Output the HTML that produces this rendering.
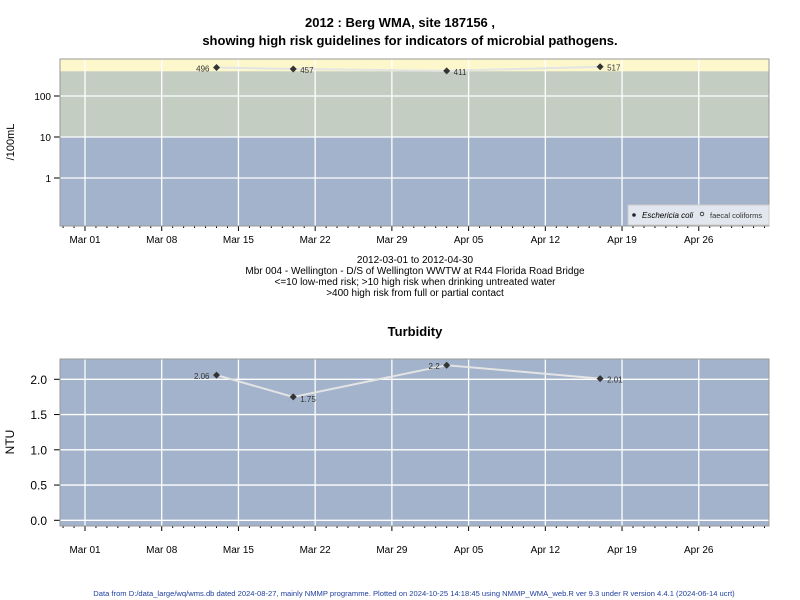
<!DOCTYPE html>
<html><head><meta charset="utf-8"><style>
body{margin:0;background:#fff;}
svg{display:block;font-family:"Liberation Sans",Arial,sans-serif;}
</style></head><body>
<svg id="c" width="800" height="600" viewBox="0 0 800 600">
<text x="400" y="27" text-anchor="middle" font-size="13" font-weight="bold">2012 : Berg WMA, site 187156 ,</text>
<text x="410" y="45" text-anchor="middle" font-size="13" font-weight="bold">showing high risk guidelines for indicators of microbial pathogens.</text>
<g id="topPanel"></g>
<g font-size="10" text-anchor="middle">
<text x="415" y="263">2012-03-01 to 2012-04-30</text>
<text x="415" y="274">Mbr 004 - Wellington - D/S of Wellington WWTW at R44 Florida Road Bridge</text>
<text x="415" y="285">&lt;=10 low-med risk; &gt;10 high risk when drinking untreated water</text>
<text x="415" y="296">&gt;400 high risk from full or partial contact</text>
</g>
<text x="415" y="336" text-anchor="middle" font-size="13" font-weight="bold">Turbidity</text>
<g id="botPanel"></g>
<text x="414" y="596" text-anchor="middle" font-size="7.6" fill="#1f3f9f">Data from D:/data_large/wq/wms.db dated 2024-08-27, mainly NMMP programme. Plotted on 2024-10-25 14:18:45 using NMMP_WMA_web.R ver 9.3 under R version 4.4.1 (2024-06-14 ucrt)</text>
</svg>
<script>
const ecoliDays=[12,19,33,47];
const ecoliValues=[496,457,411,517];
const ecoliLabels=["496","457","411","517"];
const turbDays=[12,19,33,47];
const turbValues=[2.06,1.75,2.2,2.01];
const turbLabels=["2.06","1.75","2.2","2.01"];
const dateTickDays=[0,7,14,21,28,35,42,49,56];
const dateTickLabels=["Mar 01","Mar 08","Mar 15","Mar 22","Mar 29","Apr 05","Apr 12","Apr 19","Apr 26"];
const logTicks=[1,10,100];
const turbTicks=[0,0.5,1,1.5,2];
const turbTickLabels=["0.0","0.5","1.0","1.5","2.0"];

const NS="http://www.w3.org/2000/svg";
function mk(p,t,a,txt){const e=document.createElementNS(NS,t);for(const k in a)e.setAttribute(k,a[k]);if(txt!==undefined)e.textContent=txt;p.appendChild(e);return e;}
const X0=60,X1=769;
function xs(d){return 85+d*10.96;}
const topG=document.getElementById('topPanel');
const T0=59,T1=226;
function ylog(v){return 96-(Math.log10(v)-2)*41;}
let r=mk(topG,'rect',{x:X0,y:T0,width:X1-X0,height:T1-T0,fill:'#a2b3cb'});


r=mk(topG,'rect',{x:X0,y:T0,width:X1-X0,height:ylog(10)-T0,fill:'#c3cdc1'});


r=mk(topG,'rect',{x:X0,y:T0,width:X1-X0,height:ylog(400)-T0,fill:'#fdf8cc'});


logTicks.forEach(v=>{const y=ylog(v);
 mk(topG,'line',{x1:X0,x2:X1,y1:y,y2:y,stroke:'#fff','stroke-width':1.3});
 mk(topG,'line',{x1:54,x2:X0,y1:y,y2:y,stroke:'#000'});
 const t=mk(topG,'text',{x:51,y:y+4,'text-anchor':'end','font-size':10},String(v));
 
 });
function dateAxis(g,y0,y1,labOff){
 dateTickDays.forEach((d,i)=>{const x=xs(d);
  mk(g,'line',{x1:x,x2:x,y1:y0,y2:y1,stroke:'#fff','stroke-width':1.3});
  mk(g,'line',{x1:x,x2:x,y1:y1,y2:y1+5,stroke:'#000'});
  const t=mk(g,'text',{x:x,y:y1+labOff,'text-anchor':'middle','font-size':10},dateTickLabels[i]);
  
  });
 for(let d=-2;d<=62;d++){if(d%7===0)continue;const x=xs(d);if(x<X0||x>X1)continue;
  mk(g,'line',{x1:x,x2:x,y1:y1,y2:y1+2,stroke:'#000'});}
 mk(g,'rect',{x:X0,y:y0,width:X1-X0,height:y1-y0,fill:'none',stroke:'#999'});
}
dateAxis(topG,T0,T1,17);
let pts=ecoliDays.map((d,i)=>xs(d)+','+ylog(ecoliValues[i])).join(' ');
let l=mk(topG,'polyline',{points:pts,fill:'none',stroke:'#e4e4e4','stroke-width':2});


ecoliDays.forEach((d,i)=>{const x=xs(d),y=ylog(ecoliValues[i]);
 const c=mk(topG,'path',{d:`M${x} ${y-3.5}L${x+3.5} ${y}L${x} ${y+3.5}L${x-3.5} ${y}Z`,fill:'#333'});
 
 
 const left=i===0;
 const t=mk(topG,'text',{x:left?x-7:x+7,y:y+4,'text-anchor':left?'end':'start','font-size':8,fill:'#333'},ecoliLabels[i]);
 
 });
let yt=mk(topG,'text',{x:14,y:142,'text-anchor':'middle','font-size':11,transform:'rotate(-90 14 142)'},'/100mL');


const lg=mk(topG,'g',{});


mk(lg,'rect',{x:628,y:205,width:141,height:20,fill:'#e2e6ee',stroke:'#ccc'});
mk(lg,'circle',{cx:634,cy:215,r:1.8,fill:'#222'});
mk(lg,'text',{x:642,y:218,'font-size':8,'font-style':'italic'},'Eschericia coli');
mk(lg,'circle',{cx:702,cy:214,r:1.8,fill:'none',stroke:'#222','stroke-width':0.8});
mk(lg,'text',{x:710,y:218,'font-size':7.5,fill:'#333'},'faecal coliforms');
const botG=document.getElementById('botPanel');
const B0=359,B1=526;
function yt2(v){return 520.3-v*70.5;}
r=mk(botG,'rect',{x:X0,y:B0,width:X1-X0,height:B1-B0,fill:'#a2b3cb'});


turbTicks.forEach((v,i)=>{const y=yt2(v);
 mk(botG,'line',{x1:X0,x2:X1,y1:y,y2:y,stroke:'#fff','stroke-width':1.3});
 mk(botG,'line',{x1:54,x2:X0,y1:y,y2:y,stroke:'#000'});
 const t=mk(botG,'text',{x:47,y:y+4.5,'text-anchor':'end','font-size':12},turbTickLabels[i]);
 
 });
dateAxis(botG,B0,B1,27);
pts=turbDays.map((d,i)=>xs(d)+','+yt2(turbValues[i])).join(' ');
l=mk(botG,'polyline',{points:pts,fill:'none',stroke:'#e4e4e4','stroke-width':2});


turbDays.forEach((d,i)=>{const x=xs(d),y=yt2(turbValues[i]);
 const c=mk(botG,'path',{d:`M${x} ${y-3.5}L${x+3.5} ${y}L${x} ${y+3.5}L${x-3.5} ${y}Z`,fill:'#333'});
 
 
 const left=i===0||i===2;
 const t=mk(botG,'text',{x:left?x-7:x+7,y:y+(i===1?5:4),'text-anchor':left?'end':'start','font-size':8,fill:'#333'},turbLabels[i]);
 
 });
yt=mk(botG,'text',{x:14,y:442,'text-anchor':'middle','font-size':12,transform:'rotate(-90 14 442)'},'NTU');


</script>
</body></html>
